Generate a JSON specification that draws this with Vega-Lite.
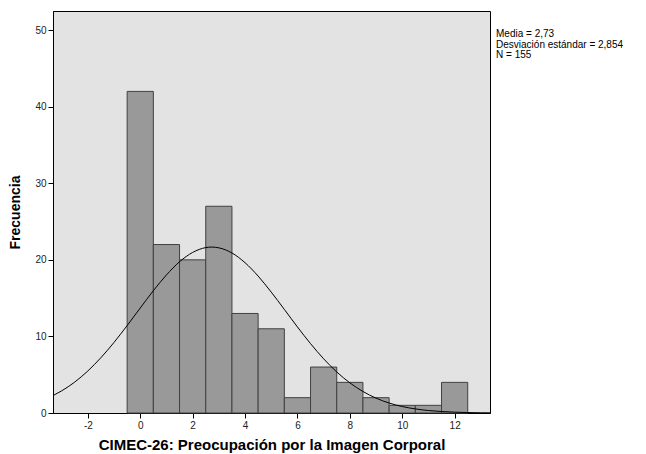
{
  "$schema": "https://vega.github.io/schema/vega-lite/v6.json",
  "width": 437,
  "height": 402,
  "autosize": {"type": "none"},
  "padding": {"left": 53, "top": 11, "right": 156, "bottom": 41},
  "background": "white",
  "config": {
    "font": "Liberation Sans",
    "view": {"fill": "#e3e3e3", "stroke": "#000000", "strokeWidth": 1},
    "axis": {
      "domainColor": "#000000",
      "tickColor": "#000000",
      "tickSize": 5,
      "labelColor": "#222222",
      "labelFontSize": 10,
      "labelFont": "Liberation Sans",
      "titleFont": "Liberation Sans",
      "titleFontWeight": "bold",
      "titleColor": "#000000",
      "grid": false
    }
  },
  "datasets": {
    "bins_edges": [
      {"desde": -0.5, "hasta": 0.5, "frecuencia": 42},
      {"desde": 0.5, "hasta": 1.5, "frecuencia": 22},
      {"desde": 1.5, "hasta": 2.5, "frecuencia": 20},
      {"desde": 2.5, "hasta": 3.5, "frecuencia": 27},
      {"desde": 3.5, "hasta": 4.5, "frecuencia": 13},
      {"desde": 4.5, "hasta": 5.5, "frecuencia": 11},
      {"desde": 5.5, "hasta": 6.5, "frecuencia": 2},
      {"desde": 6.5, "hasta": 7.5, "frecuencia": 6},
      {"desde": 7.5, "hasta": 8.5, "frecuencia": 4},
      {"desde": 8.5, "hasta": 9.5, "frecuencia": 2},
      {"desde": 9.5, "hasta": 10.5, "frecuencia": 1},
      {"desde": 10.5, "hasta": 11.5, "frecuencia": 1},
      {"desde": 11.5, "hasta": 12.5, "frecuencia": 4}
    ],
    "normal": [
      {"x": -3.5, "y": 2.0},
      {"x": -3.0, "y": 2.89},
      {"x": -2.5, "y": 4.04},
      {"x": -2.0, "y": 5.49},
      {"x": -1.5, "y": 7.23},
      {"x": -1.0, "y": 9.22},
      {"x": -0.5, "y": 11.42},
      {"x": 0.0, "y": 13.71},
      {"x": 0.5, "y": 15.97},
      {"x": 1.0, "y": 18.03},
      {"x": 1.5, "y": 19.75},
      {"x": 2.0, "y": 20.97},
      {"x": 2.5, "y": 21.6},
      {"x": 2.73, "y": 21.67},
      {"x": 3.0, "y": 21.57},
      {"x": 3.5, "y": 20.9},
      {"x": 4.0, "y": 19.63},
      {"x": 4.5, "y": 17.88},
      {"x": 5.0, "y": 15.79},
      {"x": 5.5, "y": 13.53},
      {"x": 6.0, "y": 11.24},
      {"x": 6.5, "y": 9.06},
      {"x": 7.0, "y": 7.08},
      {"x": 7.5, "y": 5.36},
      {"x": 8.0, "y": 3.94},
      {"x": 8.5, "y": 2.81},
      {"x": 9.0, "y": 1.94},
      {"x": 9.5, "y": 1.3},
      {"x": 10.0, "y": 0.845},
      {"x": 10.5, "y": 0.533},
      {"x": 11.0, "y": 0.326},
      {"x": 11.5, "y": 0.193},
      {"x": 12.0, "y": 0.111},
      {"x": 12.5, "y": 0.062},
      {"x": 13.0, "y": 0.033},
      {"x": 13.5, "y": 0.017}
    ],
    "stats": [
      {"texto": "Media = 2,73\nDesviación estándar = 2,854\nN = 155"}
    ]
  },
  "layer": [
    {
      "data": {"name": "bins_edges"},
      "mark": {"type": "rect", "fill": "#999999", "stroke": "#404040", "strokeWidth": 1},
      "encoding": {
        "x": {
          "field": "desde",
          "type": "quantitative",
          "scale": {"domain": [-3.33, 13.35], "nice": false, "zero": false},
          "axis": {
            "values": [-2, 0, 2, 4, 6, 8, 10, 12],
            "labelExpr": "'' + datum.value",
            "title": "CIMEC-26: Preocupación por la Imagen Corporal",
            "titleFontSize": 15,
            "titlePadding": 7
          }
        },
        "x2": {"field": "hasta"},
        "y": {
          "field": "frecuencia",
          "type": "quantitative",
          "scale": {"domain": [0, 52.5], "nice": false},
          "axis": {
            "values": [0, 10, 20, 30, 40, 50],
            "title": "Frecuencia",
            "titleFontSize": 14,
            "titlePadding": 12
          }
        },
        "y2": {"datum": 0}
      }
    },
    {
      "data": {"name": "normal"},
      "mark": {"type": "line", "color": "#000000", "strokeWidth": 1, "interpolate": "monotone", "clip": true},
      "encoding": {
        "x": {"field": "x", "type": "quantitative"},
        "y": {"field": "y", "type": "quantitative"}
      }
    },
    {
      "data": {"name": "stats"},
      "mark": {"type": "text", "align": "left", "baseline": "alphabetic", "fontSize": 10, "lineHeight": 10.5, "lineBreak": "\n", "color": "#000000", "font": "Liberation Sans"},
      "encoding": {
        "x": {"datum": 13.58, "type": "quantitative"},
        "y": {"datum": 49.1, "type": "quantitative"},
        "text": {"field": "texto"}
      }
    }
  ]
}
